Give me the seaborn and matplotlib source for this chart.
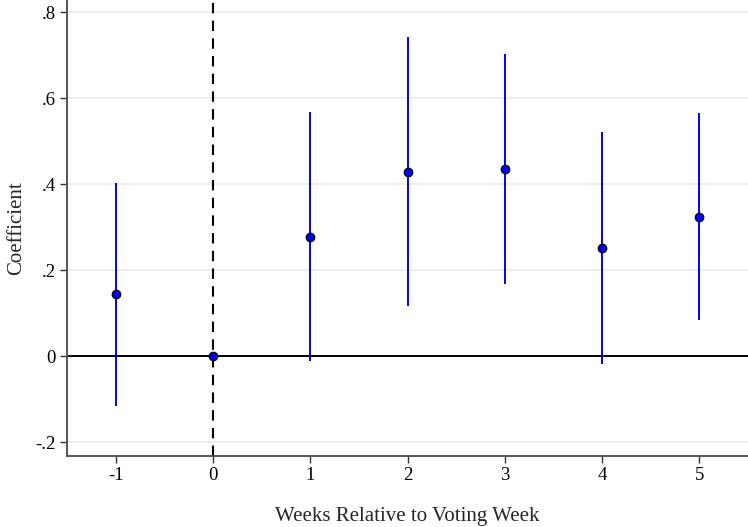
import matplotlib
matplotlib.use("Agg")
import matplotlib.pyplot as plt
import seaborn as sb
import numpy as np
import pandas as pd

# Event-study estimates
weeks = [-1, 0, 1, 2, 3, 4, 5]
coef = [0.145, 0.0, 0.279, 0.429, 0.435, 0.252, 0.325]
ci_low = [-0.115, np.nan, -0.010, 0.117, 0.169, -0.017, 0.084]
ci_high = [0.403, np.nan, 0.568, 0.742, 0.703, 0.522, 0.567]

ytick_vals = [-0.2, 0, 0.2, 0.4, 0.6, 0.8]
ytick_labels = ['-.2', '0', '.2', '.4', '.6', '.8']

df = pd.DataFrame({'week': weeks, 'coef': coef, 'lo': ci_low, 'hi': ci_high})

sb.set_style('white')
plt.rcParams['font.family'] = ['Liberation Serif', 'DejaVu Serif']

fig = plt.figure(figsize=(7.48, 5.27), dpi=100)
ax = fig.add_axes([0.0896, 0.1353, 0.9104, 0.8647])

# grid
for v in ytick_vals:
    ax.axhline(v, color='#eaf0f2', lw=1.5, zorder=0)

ax.axhline(0, color='black', lw=1.4, zorder=1)
ax.axvline(0, color='black', lw=1.5, ls=(0, (5, 3.5)), zorder=1)

ci = df.dropna()
ax.vlines(ci['week'], ci['lo'], ci['hi'], color='#0000ff', lw=1.4, zorder=2)
sb.scatterplot(data=df, x='week', y='coef', ax=ax, color='#0000ff',
               edgecolor='black', linewidth=1.0, s=36, zorder=3, legend=False)

ax.set_xlim(-1.5, 5.5)
ax.set_ylim(-0.2307, 0.829)
ax.set_xticks(weeks)
ax.set_xticklabels([str(w) for w in weeks])
ax.set_yticks(ytick_vals)
ax.set_yticklabels(ytick_labels)

for side in ['top', 'right']:
    ax.spines[side].set_visible(False)
for side in ['left', 'bottom']:
    ax.spines[side].set_color('#555555')
    ax.spines[side].set_linewidth(1.4)

ax.tick_params(axis='both', direction='out', length=5, width=1, color='#333333',
               labelsize=13.5, labelcolor='black', left=True, bottom=True, pad=3)

ax.set_xlabel('Weeks Relative to Voting Week', fontsize=15)
ax.set_ylabel('Coefficient', fontsize=15)
ax.xaxis.set_label_coords(0.5, -0.113)
ax.yaxis.set_label_coords(-0.060, 0.5)

fig.savefig('out.png', dpi=100)
